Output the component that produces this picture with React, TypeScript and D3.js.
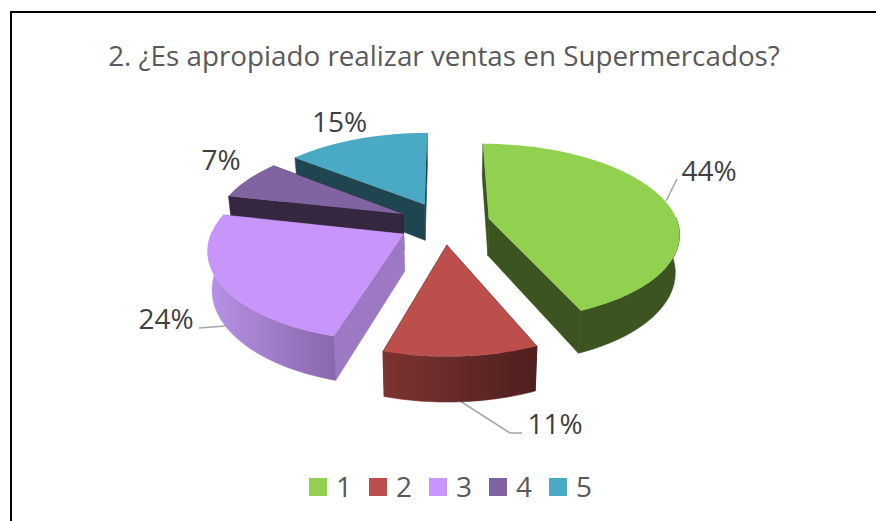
import React from "react";
import * as d3 from "d3";

const categories = ["1", "2", "3", "4", "5"];
const shares = [43.6, 10.9, 24, 7.2, 14.3];
const shareLabels = ["44%", "11%", "24%", "7%", "15%"];
const topColors = ["#92d050", "#bc4f4c", "#c896fb", "#8064a2", "#4aaac5"];
const radialWallColors = ["#3c5420", "#4f1f1e", "#9d78c3", "#35273f", "#1f4650"];
const arcWallStops = [
  ["#3c5420", "#3c5420"],
  ["#7c3431", "#4e1f1e"],
  ["#b892e6", "#8867ab"],
  ["#35273f", "#35273f"],
  ["#1f4650", "#1f4650"],
];
const drawOrder = [4, 3, 0, 2, 1];
const title = "2. ¿Es apropiado realizar ventas en Supermercados?";
const font = "'Open Sans', sans-serif";

const cx = 444, cy = 223, R = 189, explode = 46, tilt = 0.4625, D = 1260, H = 37, converge = 0.0005;

const project = (u: number, v: number, lift = 0): [number, number] => {
  const s = 1 / (1 - v / D);
  return [cx + u * s * (1 - lift * converge), cy + tilt * v * s + lift * s];
};

const pieGen = d3.pie<number>().sort(null).startAngle(0).endAngle(2 * Math.PI);
const arcsData = pieGen(shares);

const pathOf = d3.line<[number, number]>();

function slice(i: number) {
  const a = arcsData[i];
  const mid = (a.startAngle + a.endAngle) / 2;
  const ou = explode * Math.sin(mid), ov = -explode * Math.cos(mid);
  const ang = d3.range(0, 61).map((k) => a.startAngle + ((a.endAngle - a.startAngle) * k) / 60);
  const rim = (t: number): [number, number] => [ou + R * Math.sin(t), ov - R * Math.cos(t)];
  const apex: [number, number] = [ou, ov];
  const top = [project(...apex), ...ang.map((t) => project(...rim(t)))];
  const front = ang.filter((t) => Math.cos(t) < 0.02);
  const arcWall = front.length
    ? [
        ...front.map((t) => project(...rim(t))),
        ...front.slice().reverse().map((t) => project(rim(t)[0], rim(t)[1], H)),
      ]
    : null;
  const radial = (t: number) => [
    project(...apex),
    project(...rim(t)),
    project(rim(t)[0], rim(t)[1], H),
    project(apex[0], apex[1], H),
  ];
  return {
    top: pathOf(top)! + "Z",
    arcWall: arcWall ? pathOf(arcWall)! + "Z" : null,
    walls: [radial(a.startAngle), radial(a.endAngle)].map((w) => pathOf(w as [number, number][])! + "Z"),
  };
}

const labelPlacement = [
  { x: 709, y: 181 },
  { x: 555, y: 434 },
  { x: 166, y: 329 },
  { x: 221, y: 170 },
  { x: 339.5, y: 132 },
];
const leaders = [
  "M666,201L677,179",
  "M460,401L510,433L522,433",
  "M199,328L225,326",
];

export default function App() {
  return (
    <svg width={876} height={521} style={{ position: "absolute", left: 0, top: 0, background: "#fff" }}>
      <defs>
        {arcWallStops.map((s, i) => (
          <linearGradient key={i} id={`w${i}`} x1="0" x2="1" y1="0" y2="0">
            <stop offset="0" stopColor={s[0]} />
            <stop offset="1" stopColor={s[1]} />
          </linearGradient>
        ))}
      </defs>
      <path d="M11,521V12H876" fill="none" stroke="#000" strokeWidth={2} />
      <text x={444} y={66} textAnchor="middle" fontFamily={font} fontSize={27.8} fill="#595959">
        {title}
      </text>
      {leaders.map((d, i) => (
        <path key={i} d={d} fill="none" stroke="#a6a6a6" strokeWidth={1.5} />
      ))}
      {drawOrder.map((i) => {
        const s = slice(i);
        return (
          <g key={i}>
            {s.walls.map((d, k) => (
              <path key={k} d={d} fill={radialWallColors[i]} stroke={radialWallColors[i]} strokeWidth={0.6} />
            ))}
            {s.arcWall && <path d={s.arcWall} fill={`url(#w${i})`} stroke={`url(#w${i})`} strokeWidth={0.6} />}
            <path d={s.top} fill={topColors[i]} />
          </g>
        );
      })}
      {shareLabels.map((v, i) => (
        <text key={i} x={labelPlacement[i].x} y={labelPlacement[i].y} textAnchor="middle" fontFamily={font} fontSize={28} fill="#404040">
          {v}
        </text>
      ))}
      {categories.map((c, i) => (
        <g key={c} transform={`translate(${309 + i * 60},478)`}>
          <rect width={18} height={18} fill={topColors[i]} />
          <text x={27} y={19} fontFamily={font} fontSize={28} fill="#595959">
            {c}
          </text>
        </g>
      ))}
    </svg>
  );
}
